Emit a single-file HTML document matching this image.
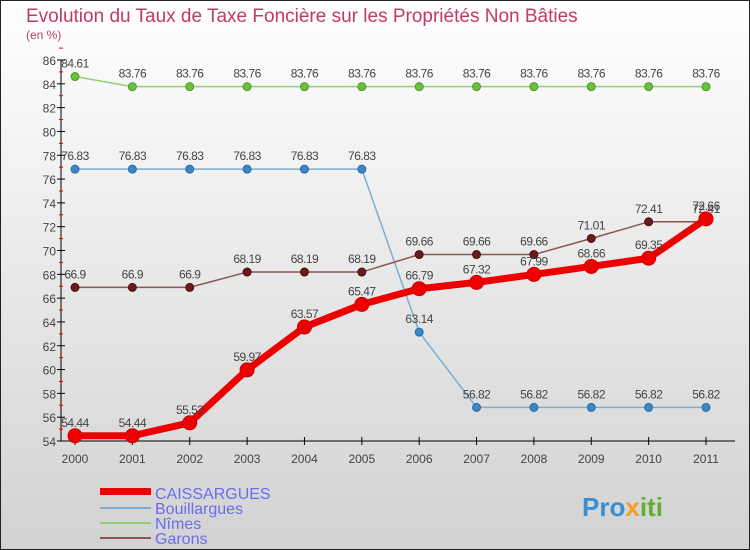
<!DOCTYPE html>
<html><head><meta charset="utf-8"><style>
body{margin:0}
svg{display:block;font-family:"Liberation Sans",sans-serif}
</style></head><body>
<svg id="c" width="750" height="550">
<defs><linearGradient id="bg" x1="0" y1="0" x2="0" y2="1"><stop offset="0" stop-color="#ffffff"/><stop offset="1" stop-color="#d2d2d2"/></linearGradient></defs>
<rect x="0.5" y="0.5" width="749" height="549" fill="url(#bg)" stroke="#222"/>
<text x="26" y="22" font-size="19" fill="#c0396b">Evolution du Taux de Taxe Foncière sur les Propriétés Non Bâties</text>
<text x="26" y="39" font-size="12" fill="#c0396b">(en %)</text>
<g id="axes"></g><g id="series"></g>
<g>
<rect x="100" y="488" width="51" height="7" fill="#e00"/>
<text x="155" y="499" font-size="16" fill="#6b6bf0">CAISSARGUES</text>
<rect x="100" y="507" width="51" height="2" fill="#7aaed0"/>
<text x="155" y="514" font-size="16" fill="#6b6bf0">Bouillargues</text>
<rect x="100" y="522" width="51" height="2" fill="#90d070"/>
<text x="155" y="529" font-size="16" fill="#6b6bf0">Nîmes</text>
<rect x="100" y="537" width="51" height="2" fill="#8b5555"/>
<text x="155" y="544" font-size="16" fill="#6b6bf0">Garons</text>
</g>
<text x="582" y="516" font-size="26" font-weight="bold" fill="#3a8fd0">Pro<tspan fill="#f0a020">x</tspan><tspan fill="#60b030">iti</tspan></text>
</svg>
<script>
const years=["2000","2001","2002","2003","2004","2005","2006","2007","2008","2009","2010","2011"];
const caissargues=[54.44,54.44,55.53,59.97,63.57,65.47,66.79,67.32,67.99,68.66,69.35,72.66];
const bouillargues=[76.83,76.83,76.83,76.83,76.83,76.83,63.14,56.82,56.82,56.82,56.82,56.82];
const nimes=[84.61,83.76,83.76,83.76,83.76,83.76,83.76,83.76,83.76,83.76,83.76,83.76];
const garons=[66.9,66.9,66.9,68.19,68.19,68.19,69.66,69.66,69.66,71.01,72.41,72.41];
const yTicks=[54,56,58,60,62,64,66,68,70,72,74,76,78,80,82,84,86];
const NS="http://www.w3.org/2000/svg";
const X=i=>75+i*(706-75)/11;
const Y=v=>441-(v-54)*(441-60)/32;
function el(t,a,p){const e=document.createElementNS(NS,t);for(const k in a)e.setAttribute(k,a[k]);p.appendChild(e);return e;}
const ax=document.getElementById('axes');
el('line',{x1:61,y1:60,x2:61,y2:441,stroke:'#000'},ax);
el('line',{x1:61,y1:441,x2:735,y2:441,stroke:'#000'},ax);
yTicks.forEach(v=>{
 el('line',{x1:57,y1:Y(v),x2:65,y2:Y(v),stroke:'#000'},ax);
 el('line',{x1:59,y1:Y(v+1),x2:63,y2:Y(v+1),stroke:'#d00'},ax);
 const t=el('text',{x:56,y:Y(v)+5,'font-size':12,fill:'#444','text-anchor':'end'},ax);
 t.textContent=v;
 
 
});
years.forEach((y,i)=>{
 el('line',{x1:X(i),y1:437,x2:X(i),y2:445,stroke:'#000'},ax);
 const t=el('text',{x:X(i),y:463,'font-size':12,fill:'#444','text-anchor':'middle'},ax);
 t.textContent=y;
 
 
});
const sg=document.getElementById('series');
function series(name,vals,color,dot,w,r,dotStroke){
 const g=el('g',{},sg);
 
 
 el('polyline',{points:vals.map((v,i)=>X(i)+','+Y(v)).join(' '),fill:'none',stroke:color,'stroke-width':w,'stroke-linejoin':'round'},g);
 vals.forEach((v,i)=>{
  const c=el('circle',{cx:X(i),cy:Y(v),r:r,fill:dot,stroke:dotStroke,'stroke-width':1},g);
  
  
  const t=el('text',{x:X(i),y:Y(v)-9,'font-size':12,fill:'#444','text-anchor':'middle','letter-spacing':'-0.5'},g);
  t.textContent=String(v);
  
  
 });
}
series('nimes',nimes,'#90d070','#6cc040',1.5,4,'#4a9a2a');
series('bouillargues',bouillargues,'#7aaed0','#3a88c8',1.5,4,'#2a6aa0');
series('garons',garons,'#8b5555','#6a1a1a',1.5,4,'#4a1010');
series('caissargues',caissargues,'#ee0000','#ee0000',7,7,'#c00');
</script>
</body></html>
